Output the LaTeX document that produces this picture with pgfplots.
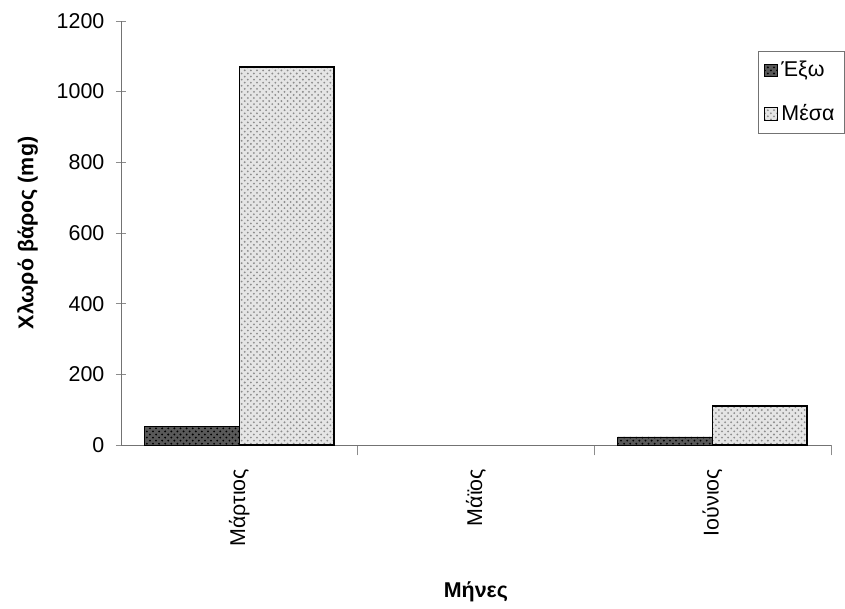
\documentclass[border=0pt]{standalone}
\usepackage{pgfplots}
\pgfplotsset{compat=1.18}
\usetikzlibrary{patterns}
\usepackage{fontspec}
\setmainfont{Liberation Sans}
\begin{document}
\fontsize{10.5}{12.5}\selectfont
\begin{tikzpicture}
\begin{axis}[
  scale only axis,
  width=348pt, height=208pt,
  xmin=-0.5, xmax=2.5,
  ymin=0, ymax=1200,
  ytick={0,200,400,600,800,1000,1200},
  axis x line=bottom, axis y line=left,
  axis line style={draw=black!55, -},
  y tick style={draw=black!45},
  tick align=center,
  major tick length=5pt,
  xtick={0.5,1.5,2.5},
  xticklabels={},
  x tick style={draw=black!45},
  extra x ticks={0,1,2},
  extra x tick labels={Μάρτιος,Μάϊος,Ιούνιος},
  extra x tick style={major tick length=0pt},
  x tick label style={rotate=90, anchor=east, xshift=-8pt},
  y tick label style={xshift=-2pt},
  xlabel={\textbf{Μήνες}},
  ylabel={\textbf{Χλωρό βάρος (mg)}},
  ylabel style={yshift=2pt},
  xlabel style={yshift=-5pt},
  /pgf/number format/assume math mode=true,
  /pgf/number format/1000 sep={},
  scaled y ticks=false,
  ybar, bar width=0.4,
  legend style={at={(rel axis cs:1.02,0.93)}, anchor=north east, draw=black!55, fill=white, font=\fontsize{10.5}{12.5}\selectfont, row sep=8pt, inner sep=3pt},
  legend cell align=left,
  legend image code/.code={\draw[#1, line width=0.4pt] (0pt,-3pt) rectangle (6pt,3pt);},
]
\addplot[bar shift=-0.2, draw=black, fill=black!65, postaction={pattern=crosshatch dots, pattern color=black}] coordinates {(0,52) (2,23)};
\addplot[bar shift=0.2, draw=black, line width=0.8pt, fill=black!10, postaction={pattern=crosshatch dots, pattern color=black!45}] coordinates {(0,1070) (2,110)};
\legend{Έξω,Μέσα}
\end{axis}
\path ([yshift=3pt]current axis.outer north);
\path ([xshift=-5pt]current axis.outer west);
\end{tikzpicture}
\end{document}
